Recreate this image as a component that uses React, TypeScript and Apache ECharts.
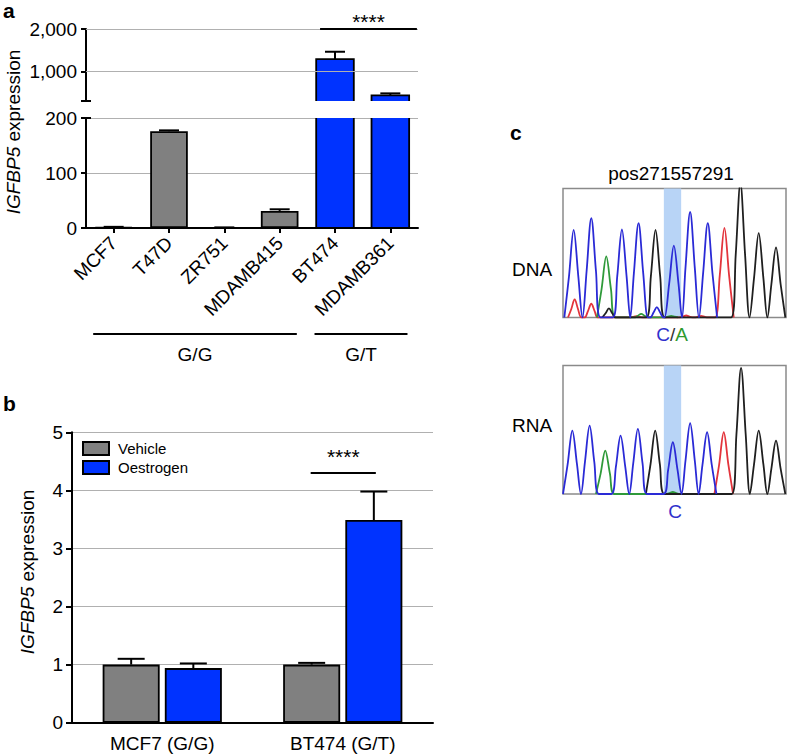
import React, { useEffect, useRef } from 'react';
import * as echarts from 'echarts';

const FONT = '"Liberation Sans", Arial, Helvetica, sans-serif';

// ---------- Panel a ----------
const cellLines = ['MCF7', 'T47D', 'ZR751', 'MDAMB415', 'BT474', 'MDAMB361'];
const cellGenotype = ['G/G', 'G/G', 'G/G', 'G/G', 'G/T', 'G/T'];
const cellExpression = [1.5, 176, 0.8, 31, 1290, 433];
const cellExpressionErr = [0.6, 1.5, 0.3, 3, 173, 47];
const lowerAxisMax = 200;
const lowerAxisInterval = 100;
const upperAxisMin = 300;
const upperAxisMax = 2000;
const upperTickValues = [1000, 2000];
const sigA = { from: 'BT474', to: 'MDAMB361', value: 2000, label: '****' };

// ---------- Panel b ----------
const treatCategories = ['MCF7 (G/G)', 'BT474 (G/T)'];
const vehicleMean = [1.0, 1.0];
const vehicleErr = [0.1, 0.03];
const oestrogenMean = [0.94, 3.49];
const oestrogenErr = [0.08, 0.49];
const sigB = { category: 'BT474 (G/T)', value: 4.3, label: '****' };

// ---------- Panel c : chromatogram peaks [position, height] ----------
const dnaBlue = [[32, 261], [85, 296], [177, 262], [227, 281], [282, 31], [333, 214], [382, 314], [435, 281]];
const dnaGreen = [[130, 182], [235, 11], [325, 5]];
const dnaBlack = [[138, 27], [278, 261], [533, 400], [588, 251], [640, 209]];
const dnaRed = [[35, 54], [85, 41], [220, 4], [370, 6], [415, 5], [485, 267]];
const rnaBlue = [[28, 190], [80, 205], [173, 175], [225, 195], [330, 155], [382, 212], [433, 185]];
const rnaGreen = [[127, 130], [330, 6]];
const rnaBlack = [[277, 190], [535, 378], [588, 190], [640, 160]];
const rnaRed = [[483, 185]];
const traceMax = 670;
const highlightRange = [303, 355];

const GRAY = '#808080';
const BLUE = '#0033ff';
const BAR_W = 0.68;
const BORDER = 1.8;
const genotypeColor: Record<string, string> = { 'G/G': GRAY, 'G/T': BLUE };

function peakTrace(peaks: number[][]) {
  const pts: number[][] = [];
  peaks
    .slice()
    .sort((p, q) => p[0] - q[0])
    .forEach(([x, h]) => {
      const w = h < 60 ? 20 : 28;
      const s = x - w;
      if (pts.length && pts[pts.length - 1][0] > s) {
        const mid = (pts[pts.length - 1][0] + s) / 2;
        pts[pts.length - 1][0] = mid;
      } else {
        pts.push([s, 0]);
      }
      pts.push([x - w * 0.5, h * 0.47]);
      pts.push([x, h]);
      pts.push([x + w * 0.5, h * 0.47]);
      pts.push([x + w, 0]);
    });
  return pts;
}

const genotypeGroups: { label: string; first: number; last: number }[] = [];
cellGenotype.forEach((g, i) => {
  const last = genotypeGroups[genotypeGroups.length - 1];
  if (last && last.label === g) last.last = i;
  else genotypeGroups.push({ label: g, first: i, last: i });
});

const axisLineStyle = { show: true, lineStyle: { color: '#000', width: 2 } };
const tickStyle = { show: true, length: 5, lineStyle: { color: '#000', width: 2 } };
const splitStyle = { show: true, lineStyle: { color: '#b0b0b0', width: 1 } };
const labelStyle = { color: '#000', fontSize: 19, fontFamily: FONT };

function errRender(capHalf: number) {
  return (params: any, api: any) => {
    const idx = api.value(0);
    const v = api.value(1);
    const e = api.value(2);
    const side = api.value(3) || 0;
    const band = api.size([1, 0])[0];
    let dx = 0;
    if (side !== 0) {
      const bw = band * 0.316;
      dx = side * (bw + bw * 0.09) / 2;
    }
    const p0 = api.coord([idx, v]);
    const p1 = api.coord([idx, v + e]);
    const x = p0[0] + dx;
    const st = { stroke: '#000', lineWidth: 2 };
    return {
      type: 'group',
      children: [
        { type: 'line', shape: { x1: x, y1: p0[1], x2: x, y2: p1[1] }, style: st },
        { type: 'line', shape: { x1: x - capHalf, y1: p1[1], x2: x + capHalf, y2: p1[1] }, style: st },
      ],
    };
  };
}

// outline of a bar that is cut by an axis break (open on the cut side)
function brokenOutline(axisMin: number, axisMax: number) {
  return (params: any, api: any) => {
    const idx = api.value(0);
    const v = Math.min(api.value(1), axisMax);
    const band = api.size([1, 0])[0];
    const c = api.coord([idx, v]);
    const bottom = api.coord([idx, axisMin])[1];
    const x0 = c[0] - (band * BAR_W) / 2;
    const x1 = c[0] + (band * BAR_W) / 2;
    const cutTop = api.value(1) > axisMax;
    const pts = cutTop
      ? [[x0, c[1]], [x0, bottom], [x1, bottom], [x1, c[1]]]
      : [[x0, bottom], [x0, c[1]], [x1, c[1]], [x1, bottom]];
    return { type: 'polyline', shape: { points: pts }, style: { stroke: '#000', lineWidth: BORDER, fill: 'none' } };
  };
}

function breakRender(params: any, api: any) {
  const band = api.size([1, 0])[0];
  const p = api.coord([0, api.value(1)]);
  const x = p[0] - band / 2;
  return {
    type: 'line',
    shape: { x1: x - 5, y1: p[1], x2: x + 5, y2: p[1] },
    style: { stroke: '#000', lineWidth: 2 },
  };
}

export default function App() {
  const ref = useRef<HTMLDivElement>(null);
  useEffect(() => {
    document.body.style.margin = '0';
    if (!ref.current) return;
    const chart = echarts.init(ref.current, undefined, { renderer: 'svg' });

    const chromSeries = (gi: number, name: string, peaks: number[][], color: string) => ({
      type: 'line',
      name,
      xAxisIndex: gi,
      yAxisIndex: gi,
      data: peakTrace(peaks),
      showSymbol: false,
      symbol: 'none',
      smooth: 0.35,
      clip: true,
      silent: true,
      z: 3,
      lineStyle: { color, width: 1.8 },
    });

    const upperRows = cellExpression.map((v, i) => [i, v]).filter((r) => r[1] > upperAxisMin);
    const lowerCutRows = cellExpression.map((v, i) => [i, v]).filter((r) => r[1] > lowerAxisMax);

    const option: any = {
      animation: false,
      textStyle: { fontFamily: FONT },
      legend: {
        data: ['Vehicle', 'Oestrogen'],
        orient: 'vertical',
        left: 77,
        top: 436,
        itemWidth: 26,
        itemHeight: 13,
        itemGap: 4,
        icon: 'rect',
        selectedMode: false,
        textStyle: { fontSize: 15, color: '#000', fontFamily: FONT, padding: [0, 0, 0, 4] },
      },
      grid: [
        { left: 86, top: 29, width: 332, height: 72 },
        { left: 86, top: 118, width: 332, height: 110 },
        { left: 72, top: 432.3, width: 361, height: 290.4 },
        { left: 563, top: 188.5, width: 223, height: 129, show: true, borderColor: '#8a8a8a', borderWidth: 1.5, backgroundColor: 'transparent' },
        { left: 563, top: 365.5, width: 223, height: 128.5, show: true, borderColor: '#8a8a8a', borderWidth: 1.5, backgroundColor: 'transparent' },
      ],
      xAxis: [
        { type: 'category', gridIndex: 0, data: cellLines, show: false },
        {
          type: 'category', gridIndex: 1, data: cellLines,
          axisLine: axisLineStyle,
          axisTick: { ...tickStyle, alignWithLabel: true },
          axisLabel: { ...labelStyle, rotate: 45, interval: 0, margin: 12 },
        },
        {
          type: 'category', gridIndex: 2, data: treatCategories,
          axisLine: axisLineStyle,
          axisTick: { show: false },
          axisLabel: { ...labelStyle, margin: 11 },
        },
        { type: 'value', gridIndex: 3, min: 0, max: traceMax, show: false },
        { type: 'value', gridIndex: 4, min: 0, max: traceMax, show: false },
      ],
      yAxis: [
        {
          type: 'value', gridIndex: 0, min: upperAxisMin, max: upperAxisMax,
          axisLine: axisLineStyle,
          axisTick: { ...tickStyle, customValues: upperTickValues },
          axisLabel: { ...labelStyle, margin: 9, customValues: upperTickValues, formatter: (v: number) => v.toLocaleString('en-US') },
          splitLine: { show: false },
        },
        {
          type: 'value', gridIndex: 1, min: 0, max: lowerAxisMax, interval: lowerAxisInterval,
          axisLine: axisLineStyle,
          axisTick: tickStyle,
          axisLabel: { ...labelStyle, margin: 9 },
          splitLine: splitStyle,
        },
        {
          type: 'value', gridIndex: 2, min: 0, max: 5, interval: 1,
          axisLine: axisLineStyle,
          axisTick: { ...tickStyle, length: 6 },
          axisLabel: { ...labelStyle, margin: 9 },
          splitLine: splitStyle,
        },
        { type: 'value', gridIndex: 3, min: 0, max: 384, show: false },
        { type: 'value', gridIndex: 4, min: 0, max: 385, show: false },
      ],
      series: [
        // panel a gridlines (upper segment)
        {
          type: 'line', xAxisIndex: 0, yAxisIndex: 0, data: [], silent: true, z: 1,
          markLine: {
            silent: true, symbol: ['none', 'none'], label: { show: false },
            lineStyle: { color: '#b0b0b0', width: 1, type: 'solid' },
            data: upperTickValues.map((v) => ({ yAxis: v })),
          },
        },
        {
          type: 'bar', name: 'aUpper', xAxisIndex: 0, yAxisIndex: 0, barWidth: BAR_W * 100 + '%', z: 2, clip: true,
          itemStyle: { borderWidth: 0 },
          data: cellExpression.map((v, i) => (v > upperAxisMin ? { value: v, itemStyle: { color: genotypeColor[cellGenotype[i]] } } : '-')),
        },
        {
          type: 'bar', name: 'aLower', xAxisIndex: 1, yAxisIndex: 1, barWidth: BAR_W * 100 + '%', z: 2, clip: true,
          itemStyle: { borderColor: '#000', borderWidth: BORDER },
          data: cellExpression.map((v, i) => ({
            value: v,
            itemStyle: { color: genotypeColor[cellGenotype[i]], borderWidth: v > lowerAxisMax ? 0 : BORDER },
          })),
        },
        { type: 'custom', xAxisIndex: 0, yAxisIndex: 0, z: 3, silent: true, renderItem: brokenOutline(upperAxisMin, upperAxisMax), data: upperRows },
        { type: 'custom', xAxisIndex: 1, yAxisIndex: 1, z: 3, silent: true, renderItem: brokenOutline(0, lowerAxisMax), data: lowerCutRows },
        {
          type: 'custom', xAxisIndex: 0, yAxisIndex: 0, z: 4, silent: true,
          renderItem: errRender(10),
          data: cellExpression.map((v, i) => [i, v, cellExpressionErr[i], 0]).filter((r) => r[1] > upperAxisMin),
        },
        {
          type: 'custom', xAxisIndex: 1, yAxisIndex: 1, z: 4, silent: true,
          renderItem: errRender(10),
          data: cellExpression.map((v, i) => [i, v, cellExpressionErr[i], 0]).filter((r) => r[1] + r[2] <= lowerAxisMax),
        },
        { type: 'custom', xAxisIndex: 0, yAxisIndex: 0, z: 5, silent: true, renderItem: breakRender, data: [[0, upperAxisMin]] },
        { type: 'custom', xAxisIndex: 1, yAxisIndex: 1, z: 5, silent: true, renderItem: breakRender, data: [[0, lowerAxisMax]] },
        {
          // genotype group lines
          type: 'custom', xAxisIndex: 1, yAxisIndex: 1, z: 5, silent: true, clip: false,
          data: genotypeGroups.map((g) => [g.first, 0]),
          renderItem: (params: any, api: any) => {
            const g = genotypeGroups[params.dataIndex];
            const band = api.size([1, 0])[0];
            const p1 = api.coord([g.first, 0]);
            const p2 = api.coord([g.last, 0]);
            const y = p1[1] + 106;
            const x1 = p1[0] - 0.37 * band;
            const x2 = p2[0] + 0.31 * band;
            return {
              type: 'group',
              children: [
                { type: 'line', shape: { x1, y1: y, x2, y2: y }, style: { stroke: '#000', lineWidth: 2 } },
                { type: 'text', x: (x1 + x2) / 2, y: y + 20, style: { text: g.label, fill: '#000', fontSize: 19, fontFamily: FONT, align: 'center', verticalAlign: 'middle' } },
              ],
            };
          },
        },
        {
          // significance panel a
          type: 'custom', xAxisIndex: 0, yAxisIndex: 0, z: 6, silent: true, clip: false,
          data: [[cellLines.indexOf(sigA.from), sigA.value]],
          renderItem: (params: any, api: any) => {
            const band = api.size([1, 0])[0];
            const ps = api.coord([cellLines.indexOf(sigA.from), sigA.value]);
            const pe = api.coord([cellLines.indexOf(sigA.to), sigA.value]);
            const x1 = ps[0] - 0.27 * band;
            const x2 = pe[0] + 0.48 * band;
            const y = ps[1];
            return {
              type: 'group',
              children: [
                { type: 'line', shape: { x1, y1: y, x2, y2: y }, style: { stroke: '#000', lineWidth: 2 } },
                { type: 'text', x: (x1 + x2) / 2, y: y - 8, style: { text: sigA.label, fill: '#000', fontSize: 21, fontFamily: FONT, align: 'center', verticalAlign: 'middle' } },
              ],
            };
          },
        },
        // panel b
        {
          type: 'bar', name: 'Vehicle', xAxisIndex: 2, yAxisIndex: 2, barWidth: '31.6%', barGap: '9%', z: 2,
          itemStyle: { color: GRAY, borderColor: '#000', borderWidth: BORDER },
          data: vehicleMean,
        },
        {
          type: 'bar', name: 'Oestrogen', xAxisIndex: 2, yAxisIndex: 2, barWidth: '31.6%', barGap: '9%', z: 2,
          itemStyle: { color: BLUE, borderColor: '#000', borderWidth: BORDER },
          data: oestrogenMean,
        },
        {
          type: 'custom', xAxisIndex: 2, yAxisIndex: 2, z: 4, silent: true,
          renderItem: errRender(13.5),
          data: [
            ...vehicleMean.map((v, i) => [i, v, vehicleErr[i], -1]),
            ...oestrogenMean.map((v, i) => [i, v, oestrogenErr[i], 1]),
          ],
        },
        {
          type: 'custom', xAxisIndex: 2, yAxisIndex: 2, z: 6, silent: true, clip: false,
          data: [[treatCategories.indexOf(sigB.category), sigB.value]],
          renderItem: (params: any, api: any) => {
            const band = api.size([1, 0])[0];
            const bw = band * 0.316;
            const off = (bw + bw * 0.09) / 2;
            const p = api.coord([treatCategories.indexOf(sigB.category), sigB.value]);
            const x1 = p[0] - off - 1;
            const x2 = p[0] + off + 2;
            const y = p[1];
            return {
              type: 'group',
              children: [
                { type: 'line', shape: { x1, y1: y, x2, y2: y }, style: { stroke: '#000', lineWidth: 2 } },
                { type: 'text', x: (x1 + x2) / 2, y: y - 16, style: { text: sigB.label, fill: '#000', fontSize: 21, fontFamily: FONT, align: 'center', verticalAlign: 'middle' } },
              ],
            };
          },
        },
        // panel c highlights
        {
          type: 'line', xAxisIndex: 3, yAxisIndex: 3, data: [], silent: true, z: 1,
          markArea: { silent: true, itemStyle: { color: '#b8d4f6' }, data: [[{ xAxis: highlightRange[0] }, { xAxis: highlightRange[1] }]] },
        },
        {
          type: 'line', xAxisIndex: 4, yAxisIndex: 4, data: [], silent: true, z: 1,
          markArea: { silent: true, itemStyle: { color: '#b8d4f6' }, data: [[{ xAxis: highlightRange[0] }, { xAxis: highlightRange[1] }]] },
        },
        chromSeries(3, 'dnaRed', dnaRed, '#e3343c'),
        chromSeries(3, 'dnaGreen', dnaGreen, '#2f9a3a'),
        chromSeries(3, 'dnaBlack', dnaBlack, '#1f1f1f'),
        chromSeries(3, 'dnaBlue', dnaBlue, '#2a2ad6'),
        chromSeries(4, 'rnaRed', rnaRed, '#e3343c'),
        chromSeries(4, 'rnaGreen', rnaGreen, '#2f9a3a'),
        chromSeries(4, 'rnaBlack', rnaBlack, '#1f1f1f'),
        chromSeries(4, 'rnaBlue', rnaBlue, '#2a2ad6'),
      ],
      graphic: [
        { type: 'text', x: 3, y: 0, style: { text: 'a', fontSize: 21, fontWeight: 'bold', fill: '#000', fontFamily: FONT, verticalAlign: 'top' } },
        { type: 'text', x: 3, y: 403, style: { text: 'b', fontSize: 21, fontWeight: 'bold', fill: '#000', fontFamily: FONT, verticalAlign: 'middle' } },
        { type: 'text', x: 510, y: 132, style: { text: 'c', fontSize: 21, fontWeight: 'bold', fill: '#000', fontFamily: FONT, verticalAlign: 'middle' } },
        {
          type: 'text', x: 13, y: 132, rotation: Math.PI / 2,
          style: { text: '{i|IGFBP5} expression', rich: { i: { fontStyle: 'italic', fontSize: 19, fontFamily: FONT, fill: '#000' } }, fontSize: 19, fill: '#000', fontFamily: FONT, align: 'center', verticalAlign: 'middle' },
        },
        {
          type: 'text', x: 27, y: 572, rotation: Math.PI / 2,
          style: { text: '{i|IGFBP5} expression', rich: { i: { fontStyle: 'italic', fontSize: 19, fontFamily: FONT, fill: '#000' } }, fontSize: 19, fill: '#000', fontFamily: FONT, align: 'center', verticalAlign: 'middle' },
        },
        { type: 'text', x: 671, y: 173, style: { text: 'pos271557291', fontSize: 19, fill: '#000', fontFamily: FONT, align: 'center', verticalAlign: 'middle' } },
        { type: 'text', x: 532, y: 269, style: { text: 'DNA', fontSize: 19, fill: '#000', fontFamily: FONT, align: 'center', verticalAlign: 'middle' } },
        { type: 'text', x: 532, y: 425, style: { text: 'RNA', fontSize: 19, fill: '#000', fontFamily: FONT, align: 'center', verticalAlign: 'middle' } },
        {
          type: 'text', x: 672, y: 334,
          style: {
            text: '{c|C}{s|/}{a|A}', fontSize: 19, fontFamily: FONT, align: 'center', verticalAlign: 'middle',
            rich: { c: { fill: '#3030cc', fontSize: 19, fontFamily: FONT }, s: { fill: '#333', fontSize: 19, fontFamily: FONT }, a: { fill: '#2e9a2e', fontSize: 19, fontFamily: FONT } },
          },
        },
        { type: 'text', x: 675, y: 511, style: { text: 'C', fontSize: 19, fill: '#3030cc', fontFamily: FONT, align: 'center', verticalAlign: 'middle' } },
      ],
    };
    chart.setOption(option);
    return () => chart.dispose();
  }, []);
  return <div ref={ref} style={{ width: 788, height: 756 }} />;
}
